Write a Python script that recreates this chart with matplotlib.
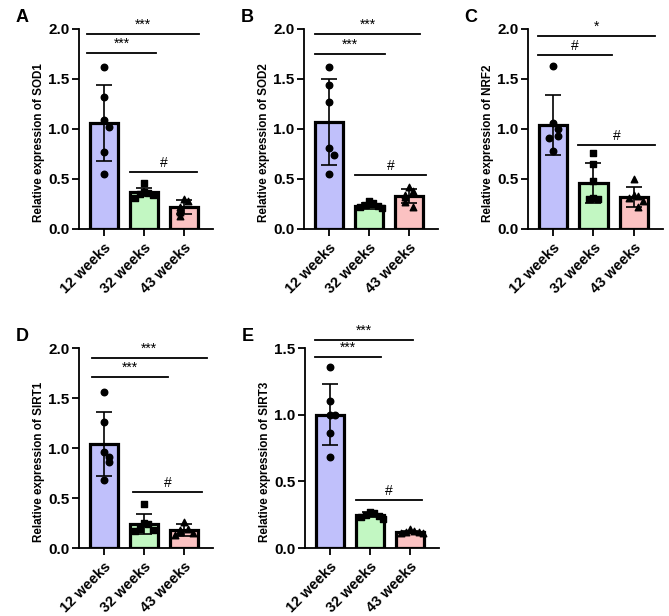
import numpy as np
import matplotlib
matplotlib.use("Agg")
import matplotlib.pyplot as plt
from matplotlib.ticker import FormatStrFormatter

# ----------------------------------------------- DATA -------------------------------------------------#
groups = ["12 weeks", "32 weeks", "43 weeks"]
bar_colors = ["#c0c0fb", "#c2f7c2", "#fbc2c2"]
markers = ["o", "s", "^"]

sod1_pts = [[1.62, 1.32, 1.09, 1.02, 0.77, 0.55],
            [0.46, 0.37, 0.36, 0.34, 0.35, 0.31],
            [0.30, 0.28, 0.22, 0.20, 0.17, 0.13]]
sod1_mean = [1.06, 0.37, 0.22]
sod1_sd = [0.38, 0.04, 0.07]

sod2_pts = [[1.62, 1.44, 1.27, 0.81, 0.74, 0.55],
            [0.28, 0.26, 0.24, 0.23, 0.22, 0.21],
            [0.42, 0.38, 0.34, 0.32, 0.27, 0.22]]
sod2_mean = [1.07, 0.23, 0.33]
sod2_sd = [0.43, 0.03, 0.07]

nrf2_pts = [[1.63, 1.06, 1.00, 0.93, 0.91, 0.78],
            [0.76, 0.65, 0.48, 0.31, 0.30, 0.30],
            [0.50, 0.34, 0.33, 0.31, 0.28, 0.22]]
nrf2_mean = [1.04, 0.46, 0.32]
nrf2_sd = [0.30, 0.20, 0.10]

sirt1_pts = [[1.56, 1.26, 0.96, 0.91, 0.86, 0.68],
             [0.44, 0.25, 0.24, 0.19, 0.17, 0.18],
             [0.26, 0.19, 0.18, 0.16, 0.13, 0.15]]
sirt1_mean = [1.04, 0.24, 0.18]
sirt1_sd = [0.32, 0.10, 0.06]

sirt3_pts = [[1.36, 1.10, 1.00, 1.00, 0.86, 0.68],
             [0.27, 0.26, 0.25, 0.23, 0.22, 0.24],
             [0.14, 0.13, 0.12, 0.12, 0.11, 0.11]]
sirt3_mean = [1.00, 0.25, 0.12]
sirt3_sd = [0.23, 0.02, 0.01]

# significance brackets: (start, end, height, label)
sod1_sig = [(-0.42, 2.37, 1.95, "***"), (-0.42, 1.30, 1.76, "***"), (0.65, 2.33, 0.57, "#")]
sod2_sig = [(-0.35, 2.28, 1.95, "***"), (-0.35, 1.40, 1.75, "***"), (0.65, 2.43, 0.54, "#")]
nrf2_sig = [(-0.38, 2.52, 1.93, "*"), (-0.38, 1.45, 1.74, "#"), (0.62, 2.52, 0.84, "#")]
sirt1_sig = [(-0.30, 2.57, 1.90, "***"), (-0.30, 1.60, 1.71, "***"), (0.73, 2.45, 0.56, "#")]
sirt3_sig = [(-0.38, 2.08, 1.56, "***"), (-0.38, 1.27, 1.43, "***"), (0.64, 2.30, 0.36, "#")]

plt.rcParams['font.family'] = ['Liberation Sans', 'DejaVu Sans']
plt.rcParams['font.weight'] = 'bold'


# ----------------------------------------------- HELPERS -------------------------------------------------#
def swarm_offsets(vals, ymax, width=0.11):
    """crude beeswarm: spread points that sit close together"""
    order = np.argsort(vals)[::-1]
    offs = np.zeros(len(vals))
    placed = []
    for i in order:
        near = [p for p in placed if abs(vals[p] - vals[i]) < 0.045 * ymax]
        k = len(near)
        offs[i] = 0 if k == 0 else ((k + 1) // 2) * width * (1 if k % 2 else -1)
        placed.append(i)
    return offs


def draw_panel(rect, letter, gene, pts, mean, sd, sig, ymax):
    ax = fig.add_axes(rect)
    x = np.arange(len(groups))
    ax.bar(x, mean, width=0.7, color=bar_colors, edgecolor="black", linewidth=2.3, zorder=1)
    ax.errorbar(x, mean, yerr=sd, fmt="none", ecolor="black", elinewidth=1.2,
                capsize=6, capthick=1.2, zorder=2)
    for i, vals in enumerate(pts):
        offs = swarm_offsets(np.array(vals), ymax)
        ax.scatter(x[i] + offs, vals, marker=markers[i], s=22, color="black", zorder=3,
                   clip_on=False)
    for x0, x1, h, lab in sig:
        ax.plot([x0, x1], [h, h], color="black", lw=1.3, clip_on=False)
        ax.text((x0 + x1) / 2, h + 0.012 * ymax, lab, ha="center", va="bottom",
                fontsize=10, fontweight="normal")
    ax.set_xlim(-0.63, 2.73)
    ax.set_ylim(0, ymax)
    ax.set_yticks(np.arange(0, ymax + 0.01, 0.5))
    ax.yaxis.set_major_formatter(FormatStrFormatter('%.1f'))
    ax.set_xticks(x)
    ax.set_xticklabels(groups, rotation=45, ha="right", rotation_mode="anchor")
    ax.tick_params(axis="y", labelsize=11, width=1.3, length=5, pad=2)
    ax.tick_params(axis="x", labelsize=10.5, width=1.3, length=5)
    for lab in ax.get_xticklabels() + ax.get_yticklabels():
        lab.set_fontweight("bold")
    ax.spines["top"].set_visible(False)
    ax.spines["right"].set_visible(False)
    ax.spines["left"].set_linewidth(1.3)
    ax.spines["bottom"].set_linewidth(1.3)
    ax.set_ylabel("Relative expression of " + gene, fontsize=8.4, fontweight="bold")
    ax.yaxis.set_label_coords(-0.255, 0.43)
    fig.text(rect[0] - 0.085, rect[1] + rect[3] + 0.018, letter, fontsize=13,
             fontweight="bold", ha="center", va="center")
    return ax


# ----------------------------------------------- FIGURE -------------------------------------------------#
fig = plt.figure(figsize=(6.69, 6.16), dpi=100)
W, H = 669.0, 616.0
aw, ah = 134 / W, 200 / H
draw_panel([79 / W, 1 - 229 / H, aw, ah], "A", "SOD1", sod1_pts, sod1_mean, sod1_sd, sod1_sig, 2.0)
draw_panel([304 / W, 1 - 229 / H, aw, ah], "B", "SOD2", sod2_pts, sod2_mean, sod2_sd, sod2_sig, 2.0)
draw_panel([528 / W, 1 - 229 / H, 135 / W, ah], "C", "NRF2", nrf2_pts, nrf2_mean, nrf2_sd, nrf2_sig, 2.0)
draw_panel([79 / W, 1 - 548 / H, aw, ah], "D", "SIRT1", sirt1_pts, sirt1_mean, sirt1_sd, sirt1_sig, 2.0)
draw_panel([305 / W, 1 - 548 / H, aw, ah], "E", "SIRT3", sirt3_pts, sirt3_mean, sirt3_sd, sirt3_sig, 1.5)

fig.savefig("out.png", dpi=100)
